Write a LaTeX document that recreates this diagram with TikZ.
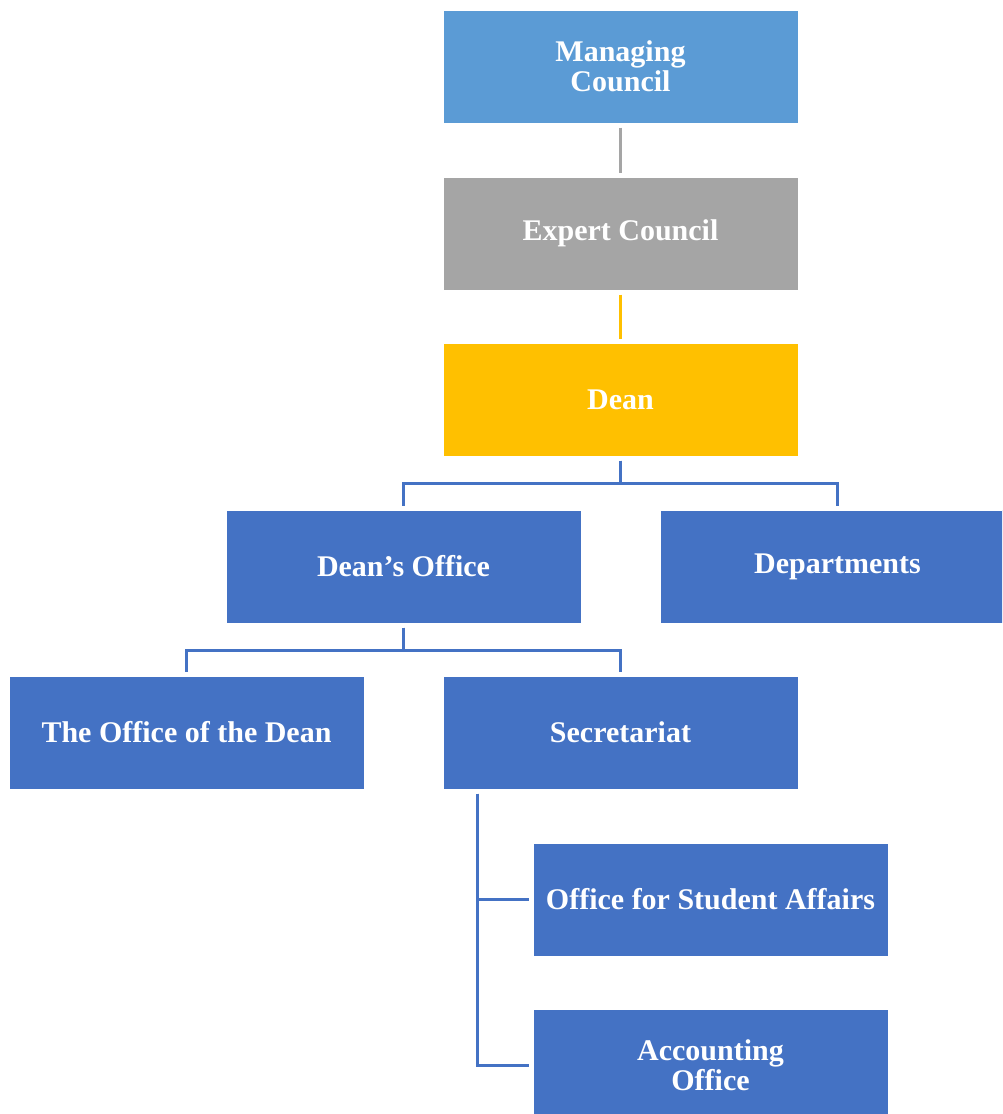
\documentclass[tikz,border=0pt]{standalone}
\usepackage{fontspec}
\setmainfont{Liberation Serif}
\definecolor{mcblue}{HTML}{5B9BD5}
\definecolor{ecgrey}{HTML}{A5A5A5}
\definecolor{deanyellow}{HTML}{FFC000}
\definecolor{unitblue}{HTML}{4472C4}

\begin{document}
\begin{tikzpicture}[x=1pt, y=-1pt,
  box/.style={draw=white, line width=1pt, minimum width=355pt, minimum height=113pt, inner sep=0pt,
    align=center, text=white, font=\fontsize{30}{30}\selectfont\bfseries},
  conn/.style={line width=3pt, shorten <=4pt, shorten >=4pt}]
\useasboundingbox (0,0) rectangle (1002,1114);
\clip (0,0) rectangle (1002,1114);
\node[box, fill=mcblue] (mc) at (620.5,66.5) {Managing\\Council};
\node[box, fill=ecgrey] (ec) at (620.5,233.5) {Expert Council};
\node[box, fill=deanyellow] (dean) at (620.5,399.5) {Dean};
\node[box, fill=unitblue] (doff) at (403.5,566.5) {Dean’s Office};
\node[box, fill=unitblue] (dept) at (837.5,566.5) {Departments};
\node[box, fill=unitblue] (otd) at (186.5,732.5) {The Office of the Dean};
\node[box, fill=unitblue] (secr) at (620.5,732.5) {Secretariat};
\node[box, fill=unitblue] (osa) at (710.5,899.5) {Office for Student Affairs};
\node[box, fill=unitblue] (acc) at (710.5,1065.5) {Accounting\\Office};
\draw[conn, ecgrey] (mc) -- (ec);
\draw[conn, deanyellow] (ec) -- (dean);
\draw[conn, unitblue] (dean.south) -- ++(0,27) -| (doff.north);
\draw[conn, unitblue] (dean.south) -- ++(0,27) -| (dept.north);
\draw[conn, unitblue] (doff.south) -- ++(0,27) -| (otd.north);
\draw[conn, unitblue] (doff.south) -- ++(0,27) -| (secr.north);
\draw[conn, unitblue] ([xshift=35pt]secr.south west) |- (osa.west);
\draw[conn, unitblue] ([xshift=35pt]secr.south west) |- (acc.west);
\end{tikzpicture}
\end{document}
